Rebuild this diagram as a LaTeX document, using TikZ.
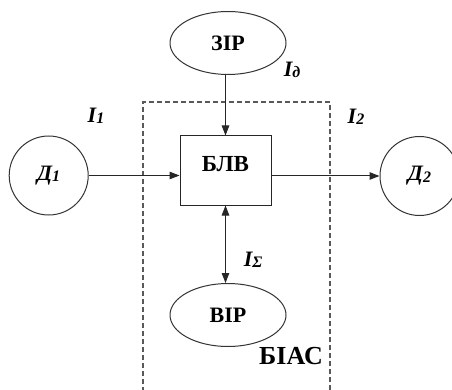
\documentclass[tikz,border=0pt]{standalone}
\usepackage{fontspec}
\setmainfont{Liberation Serif}
\usetikzlibrary{shapes.geometric,arrows.meta}
\newcommand\lsub[1]{\raisebox{-1.5pt}{\fontsize{16}{16}\selectfont #1}}
\begin{document}
\begin{tikzpicture}[x=1pt,y=-1pt,
  edge/.style={line width=1pt,draw=black!85},
  tip/.style={-{Triangle[length=10pt,width=7.5pt]}},
  twotip/.style={{Triangle[length=10pt,width=7.5pt]}-{Triangle[length=10pt,width=7.5pt]}},
  oval/.style={ellipse,draw=black!80,line width=1pt,minimum width=116pt,minimum height=63pt,inner sep=0pt,
    font=\fontsize{22}{24}\selectfont\bfseries},
  dev/.style={circle,draw=black!80,line width=1pt,minimum size=79pt,inner sep=0pt,
    font=\fontsize{22}{24}\selectfont\bfseries\itshape},
  blockbox/.style={rectangle,draw=black!85,line width=1pt,minimum width=91pt,minimum height=69pt,inner sep=0pt},
  flow/.style={font=\fontsize{22}{24}\selectfont\bfseries\itshape,inner sep=0pt},
  frame/.style={draw=black!65,line width=1.1pt,dash pattern=on 5pt off 3pt}
]
\useasboundingbox (0,0) rectangle (452,390);
\begin{scope}
\clip (0,0) rectangle (452,390);

% dashed boundary of the system (open at the bottom edge)
\draw[frame] (143,400) -- (143,102) -- (330,102) -- (330,400);

% elements
\node[oval] (zir) at (228,43) {ЗІР};
\node[oval] (vir) at (228,315) {ВІР};
\node[blockbox,
  label={[anchor=north,yshift=-18pt,inner sep=3pt,font=\fontsize{23}{25}\selectfont\bfseries]north:БЛВ}]
  (blv) at (225.5,170.5) {};
\node[dev] (d1) at (48.7,175.5) {Д\lsub{1}};
\node[dev] (d2) at (419.5,176) {Д\lsub{2}};

% connections
\draw[edge,tip] (d1.east) -- (d1.east -| blv.west);
\draw[edge,tip] (blv.east |- d2.west) -- (d2.west);
\draw[edge,tip] (blv.north |- zir.south) -- (blv.north);
\draw[edge,twotip] (blv.south) -- (blv.south |- vir.north);

% flow labels
\node[flow] (i1) at (96,116) {I\lsub{1}};
\node[flow] (i2) at (356,117) {I\lsub{2}};
\node[flow] (id) at (292,70) {I\lsub{д}};
\node[flow] (is) at (253,260) {I\lsub{Σ}};
\node[font=\fontsize{26}{28}\selectfont\bfseries,inner sep=0pt] (biac) at (291,356) {БІАС};
\end{scope}
\end{tikzpicture}
\end{document}
